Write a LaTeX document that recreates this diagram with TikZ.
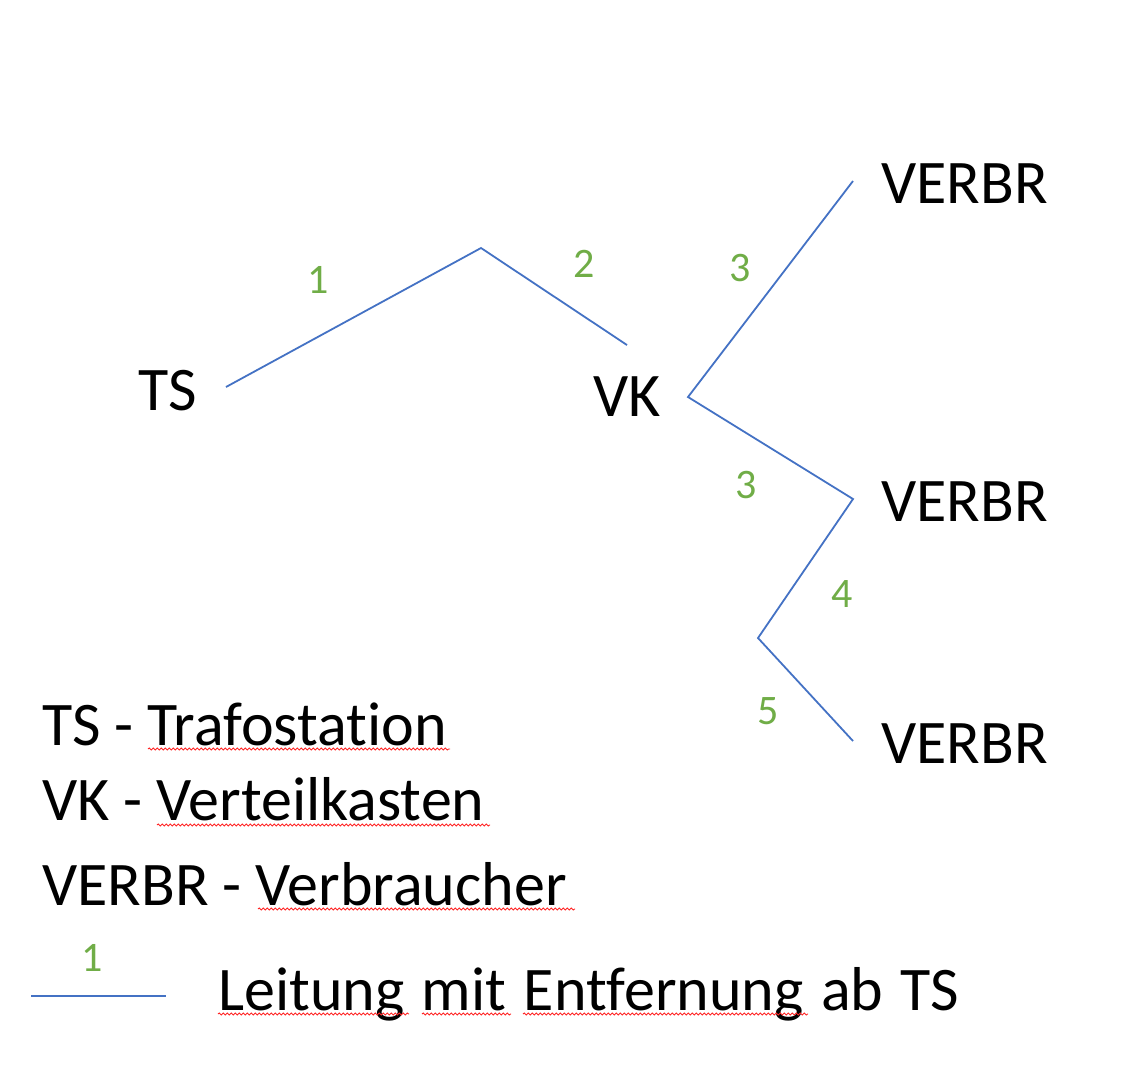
\documentclass[tikz,border=0pt]{standalone}
\usepackage{fontspec}
\setmainfont{Carlito}[Ligatures={NoCommon,NoRequired,NoContextual}]
\usetikzlibrary{decorations.pathmorphing}
\definecolor{lineblue}{RGB}{68,114,196}
\definecolor{numgreen}{RGB}{112,173,71}
\tikzset{
  big/.style={font=\fontsize{62}{74}\selectfont, inner sep=0pt, text=black},
  num/.style={font=\fontsize{42}{50}\selectfont, inner sep=0pt, text=numgreen},
  wire/.style={draw=lineblue, line width=1.8pt},
  squig/.style={draw=red!85!white, line width=0.9pt, decorate,
    decoration={snake, segment length=4pt, amplitude=1pt}}
}
\begin{document}
\begin{tikzpicture}[x=1pt,y=-1pt]
\useasboundingbox (0,0) rectangle (1121,1077);
% labels
\node[big, anchor=base] (ts) at (168,410) {TS};
\node[big, anchor=base] (vk) at (627,416) {VK};
\node[big, anchor=base west] (vb1) at (881,203) {VERBR};
\node[big, anchor=base west] (vb2) at (881,521) {VERBR};
\node[big, anchor=base west] (vb3) at (881,763) {VERBR};
% line points
\coordinate (tsend) at (226,387);
\coordinate (peak) at (481,248);
\coordinate (vkin) at (627,345);
\coordinate (vkout) at (688,397);
\coordinate (v1) at (853,181);
\coordinate (v2) at (853,499);
\coordinate (bend) at (758,638);
\coordinate (v3) at (853,741);
\draw[wire] (tsend) -- (peak) -- (vkin);
\draw[wire] (v1) -- (vkout) -- (v2) -- (bend) -- (v3);
% distances
\node[num] (n1) at (318,280) {1};
\node[num] (n2) at (584,264) {2};
\node[num] (n3a) at (740,268) {3};
\node[num] (n3b) at (746,485) {3};
\node[num] (n4) at (842,594) {4};
\node[num] (n5) at (768,711) {5};
% legend
\node[big, anchor=base west] (l1) at (42,745) {TS - Trafostation};
\node[big, anchor=base west] (l2) at (42,820) {VK - Verteilkasten};
\node[big, anchor=base west] (l3) at (42,905) {VERBR - Verbraucher};
\coordinate (lga) at (31,996);
\coordinate (lgb) at (166,996);
\draw[wire] (lga) -- (lgb);
\node[num] (ln) at (92,958) {1};
\node[big, anchor=base west] (l4) at (218,1010) {\spaceskip=17.5pt Leitung mit Entfernung ab TS};
% spelling marks
\draw[squig] (148,749) -- (450,749);
\draw[squig] (157,825) -- (490,825);
\draw[squig] (258,909) -- (575,909);
\draw[squig] (218,1014) -- (409,1014);
\draw[squig] (422,1014) -- (511,1014);
\draw[squig] (523,1014) -- (808,1014);
\end{tikzpicture}
\end{document}
